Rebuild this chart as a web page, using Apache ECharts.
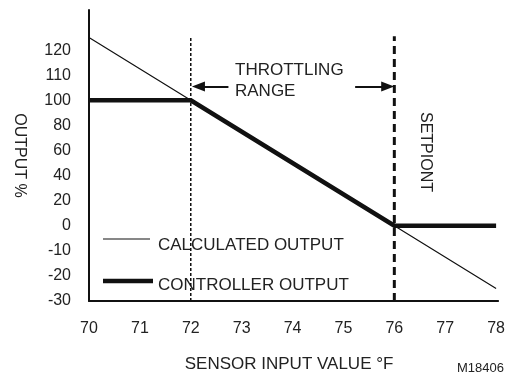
<!DOCTYPE html>
<html>
<head>
<meta charset="utf-8">
<script src="https://cdn.jsdelivr.net/npm/echarts@6/dist/echarts.min.js"></script>
<style>
  html, body { margin: 0; padding: 0; background: #fff; }
  #chart { width: 508px; height: 378px; }
</style>
</head>
<body>
<div id="chart"></div>
<script>
// ---- data ----
const yTickLabels = [-30, -20, -10, 0, 20, 40, 60, 80, 100, 110, 120];
const xTickLabels = [70, 71, 72, 73, 74, 75, 76, 77, 78];
const calcX = [70, 72, 76, 78];
const calcY = [125, 100, 0, -25];
const ctrlX = [70, 72, 76, 78];
const ctrlY = [100, 100, 0, 0];
const throttleStart = 72;
const setpoint = 76;
const guideRange = [-30, 125.5];
const arrowY = 105.5;
const arrowLeft = [72.74, 72.15];
const arrowRight = [75.23, 75.87];
const legendNames = ['CALCULATED OUTPUT', 'CONTROLLER OUTPUT'];

// piecewise-linear y scale (the chart's tick labels are evenly spaced but not evenly valued)
function toPos(v) {
  const t = yTickLabels;
  let i = 0;
  if (v <= t[0]) i = 0;
  else if (v >= t[t.length - 1]) i = t.length - 2;
  else { while (!(v >= t[i] && v <= t[i + 1])) i++; }
  return i + (v - t[i]) / (t[i + 1] - t[i]);
}
const pts = (xs, ys) => xs.map((x, i) => [x, toPos(ys[i])]);

const chart = echarts.init(document.getElementById('chart'), null, { renderer: 'canvas' });
const FONT = 'Liberation Sans';
const TXT = '#222';
const LINE = '#111';
const F17 = '17px "Liberation Sans"';

chart.setOption({
  animation: false,
  backgroundColor: '#fff',
  textStyle: { fontFamily: FONT },
  grid: { left: 89, right: 6, top: 10, bottom: 71, containLabel: false },
  xAxis: {
    type: 'value',
    min: 70,
    max: 78.04,
    interval: 1,
    name: 'SENSOR INPUT VALUE °F',
    nameLocation: 'middle',
    nameGap: 55,
    nameTextStyle: { fontFamily: FONT, fontSize: 17, color: TXT, padding: [0, 9, 0, 0] },
    axisLine: { lineStyle: { color: LINE, width: 2 } },
    axisTick: { show: false },
    splitLine: { show: false },
    axisLabel: {
      margin: 20,
      fontFamily: FONT, fontSize: 16, color: TXT,
      formatter: v => (Math.abs(v - Math.round(v)) < 1e-6 && xTickLabels.includes(Math.round(v))) ? String(Math.round(v)) : ''
    }
  },
  yAxis: {
    type: 'value',
    min: 0,
    max: 11.6,
    interval: 1,
    name: 'OUTPUT %',
    nameLocation: 'middle',
    nameRotate: -90,
    nameGap: 62,
    nameTextStyle: { fontFamily: FONT, fontSize: 16, color: TXT },
    axisLine: { show: true, lineStyle: { color: LINE, width: 2 } },
    axisTick: { show: false },
    splitLine: { show: false },
    axisLabel: {
      margin: 18,
      fontFamily: FONT, fontSize: 16, color: TXT,
      formatter: v => {
        const r = Math.round(v);
        return (Math.abs(v - r) < 1e-6 && yTickLabels[r] !== undefined) ? String(yTickLabels[r]) : '';
      }
    }
  },
  series: [
    {
      name: legendNames[0],
      type: 'line',
      data: pts(calcX, calcY),
      symbol: 'none',
      lineStyle: { color: LINE, width: 1.2 },
      itemStyle: { color: LINE },
      silent: true,
      z: 3
    },
    {
      name: legendNames[1],
      type: 'line',
      data: pts(ctrlX, ctrlY),
      symbol: 'none',
      lineStyle: { color: LINE, width: 4.5, cap: 'butt', join: 'miter' },
      itemStyle: { color: LINE },
      silent: true,
      z: 4
    },
    {
      name: 'throttle',
      type: 'line',
      data: [[throttleStart, toPos(guideRange[0])], [throttleStart, toPos(guideRange[1])]],
      symbol: 'none',
      lineStyle: { color: LINE, width: 1.5, type: [3, 2] },
      silent: true,
      z: 2,
      markLine: {
        silent: true,
        symbol: ['none', 'triangle'],
        symbolSize: [10, 13],
        label: { show: false },
        lineStyle: { color: LINE, width: 2, type: 'solid' },
        emphasis: { disabled: true },
        data: [
          [{ coord: [arrowLeft[0], toPos(arrowY)] }, { coord: [arrowLeft[1], toPos(arrowY)] }],
          [{ coord: [arrowRight[0], toPos(arrowY)] }, { coord: [arrowRight[1], toPos(arrowY)] }]
        ]
      }
    },
    {
      name: 'setpoint',
      type: 'line',
      data: [[setpoint, toPos(guideRange[0])], [setpoint, toPos(guideRange[1])]],
      symbol: 'none',
      lineStyle: { color: LINE, width: 3, type: [8, 5] },
      silent: true,
      z: 2
    }
  ],
  graphic: [
    { type: 'text', left: 235, top: 62, style: { text: 'THROTTLING', font: F17, fill: TXT } },
    { type: 'text', left: 235, top: 83, style: { text: 'RANGE', font: F17, fill: TXT } },
    { type: 'text', x: 425, y: 152, rotation: -Math.PI / 2,
      style: { text: 'SETPIONT', font: '16px "Liberation Sans"', fill: TXT, align: 'center', verticalAlign: 'middle' } },
    { type: 'text', right: 4, top: 362, style: { text: 'M18406', font: '13px "Liberation Sans"', fill: TXT } },
    // legend
    { type: 'line', shape: { x1: 103, y1: 239, x2: 150, y2: 239 }, style: { stroke: LINE, lineWidth: 1.2 } },
    { type: 'text', x: 158, y: 245, style: { text: legendNames[0], font: F17, fill: TXT, verticalAlign: 'middle' } },
    { type: 'line', shape: { x1: 103, y1: 281, x2: 153, y2: 281 }, style: { stroke: LINE, lineWidth: 4.5 } },
    { type: 'text', x: 158, y: 285, style: { text: legendNames[1], font: F17, fill: TXT, verticalAlign: 'middle' } }
  ]
});
</script>
</body>
</html>
